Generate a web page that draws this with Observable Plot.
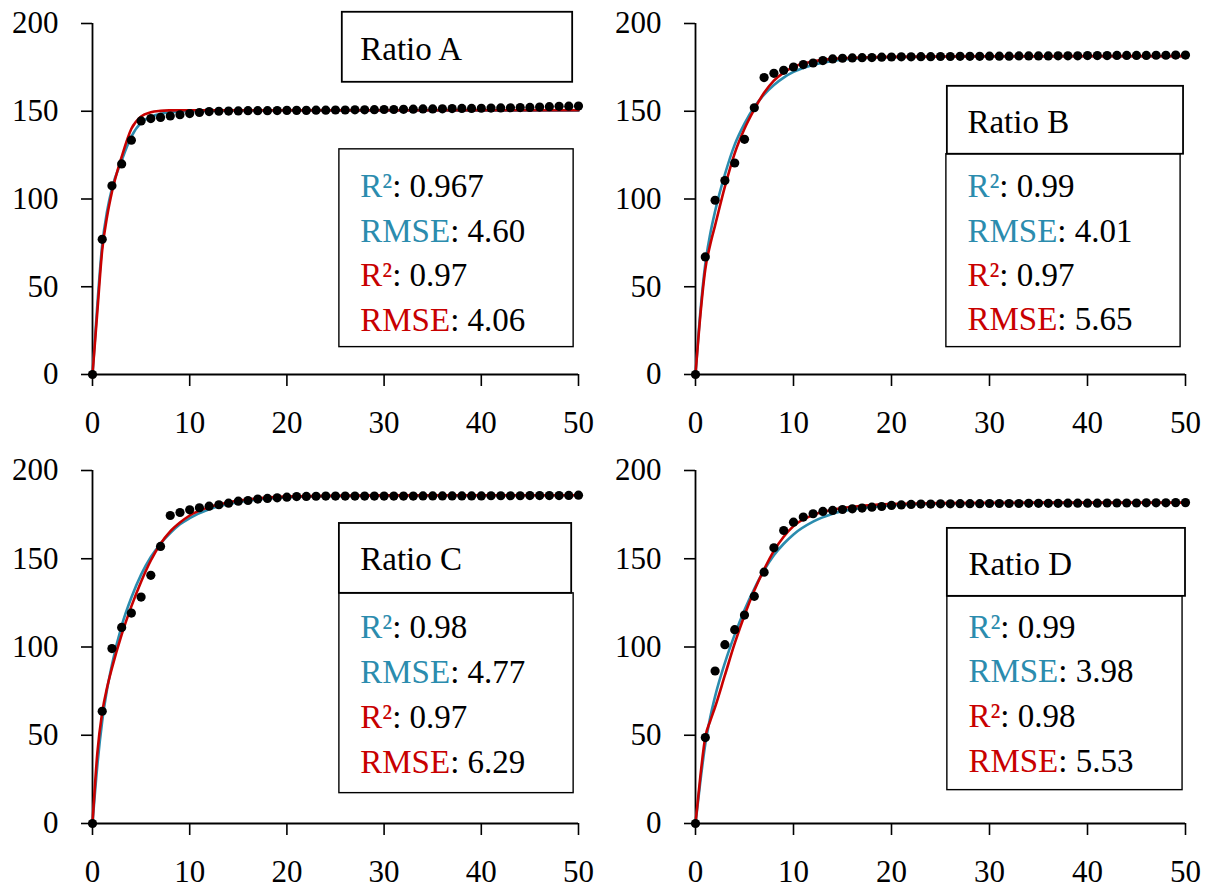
<!DOCTYPE html>
<html>
<head>
<meta charset="utf-8">
<script src="https://cdn.jsdelivr.net/npm/d3@7"></script>
<script src="https://cdn.jsdelivr.net/npm/@observablehq/plot@0.6"></script>
<style>
  body { margin: 0; background: #fff; }
  #chart { position: relative; width: 1209px; height: 891px; font-family: "Liberation Serif", serif; }
  #chart svg { position: absolute; overflow: visible; }
</style>
</head>
<body>
<div id="chart"></div>
<script>
// Sampling times of the observations
const time = [0,1,2,3,4,5,6,7,8,9,10,11,12,13,14,15,16,17,18,19,20,21,22,23,24,25,
  26,27,28,29,30,31,32,33,34,35,36,37,38,39,40,41,42,43,44,45,46,47,48,49,50];

// Observed values for each ratio
const ratioA = [0,77,107.5,120,133.5,144.5,145.8,146.5,147.3,148,148.7,149.3,149.8,150,150.1,150.2,150.3,150.3,150.3,150.4,
  150.5,150.5,150.5,150.6,150.6,150.7,150.7,150.8,150.8,150.9,151,151,151.1,151.2,151.3,151.3,151.4,151.5,151.6,151.6,
  151.7,151.8,151.9,152,152.1,152.2,152.4,152.6,152.8,152.9,153];
const ratioB = [0,67,99.3,110.5,120.5,134,152,169.2,171.6,173.3,175.2,176.6,177.5,178.9,179.8,180.2,180.4,180.5,180.6,180.8,
  180.9,181,181,181.1,181.1,181.2,181.2,181.3,181.3,181.3,181.4,181.4,181.4,181.5,181.5,181.5,181.5,181.6,181.6,181.6,
  181.7,181.7,181.7,181.8,181.8,181.8,181.8,181.9,181.9,182,182];
const ratioC = [0,63.6,99.1,111.1,119.2,128.3,140.6,157,174.5,176.2,177.7,178.9,179.8,180.6,181.5,182.6,183,183.8,184.2,184.5,
  184.9,185.2,185.3,185.4,185.5,185.5,185.5,185.5,185.5,185.5,185.5,185.5,185.5,185.5,185.6,185.6,185.6,185.6,185.6,185.6,
  185.6,185.7,185.7,185.7,185.7,185.8,185.8,185.8,185.8,185.9,186];
const ratioD = [0,48.7,86.4,101.3,109.8,118.1,128.7,142.4,156.2,166,170.7,173.6,175.5,176.8,177.4,177.9,178.3,178.7,179.2,179.6,
  180.2,180.5,180.8,181,181,181.1,181.1,181.2,181.2,181.2,181.3,181.3,181.3,181.3,181.4,181.4,181.4,181.4,181.5,181.5,
  181.5,181.5,181.6,181.6,181.6,181.6,181.7,181.7,181.7,181.8,181.8];

// Fitted model curves (two models per ratio)
const curveT = [0,0.5,1,1.5,2,3,4,5,6,7,8,9,10,12,14,17,20,25,30,40,50];
const blueA = [0,40,74,93,106,122,135.5,143.5,146.8,148.5,149.4,149.8,150,150.2,150.3,150.3,150.3,150.3,150.3,150.3,150.3];
const redA  = [0,36,71,90,104,124,140,147,149.4,150.2,150.5,150.6,150.6,150.6,150.6,150.6,150.6,150.6,150.6,150.6,150.6];
const blueB = [0,36,63,80,93,114,131,143,152.5,159.5,165,169.2,172.4,176.4,178.7,180.2,180.8,181.1,181.2,181.3,181.3];
const redB  = [0,34,60,74,85,107,126,140,151,160.5,167.5,172,175.3,178.4,179.8,180.6,181,181.2,181.3,181.4,181.4];
const blueC = [0,33,58,76,90,112,128,141,151,158.5,164.5,169.5,173,178,181,183.6,184.8,185.5,185.8,186,186];
const redC  = [0,40,63,77,88,107,123,137,149,158.5,165.5,170.5,174.5,179.3,182,184.2,185.2,185.7,185.9,186,186];
const blueD = [0,24,45,60,72,91,107,121,133,143.5,152,158.5,163.8,171,175.5,178.8,180.3,181.2,181.5,181.7,181.7];
const redD  = [0,27,49,58,66,84,102,118,132,144,154.5,162.5,168.5,174.8,177.8,180,181,181.5,181.7,181.8,181.8];

// Goodness-of-fit labels
const ratioNames = ["Ratio A", "Ratio B", "Ratio C", "Ratio D"];
const r2Blue   = ["0.967", "0.99", "0.98", "0.99"];
const rmseBlue = ["4.60", "4.01", "4.77", "3.98"];
const r2Red    = ["0.97", "0.97", "0.97", "0.98"];
const rmseRed  = ["4.06", "5.65", "6.29", "5.53"];

const xTicks = [0, 10, 20, 30, 40, 50];
const yTicks = [0, 50, 100, 150, 200];

const BLUE = "#2b8cae";
const RED = "#c80000";

const series = [
  {obs: ratioA, blue: blueA, red: redA},
  {obs: ratioB, blue: blueB, red: redB},
  {obs: ratioC, blue: blueC, red: redC},
  {obs: ratioD, blue: blueD, red: redD}
];

// Frame of each panel on the page
const frames = [
  {left: 0,   top: 0,   width: 604, height: 445, ml: 92, mr: 26, mt: 23, mb: 71},
  {left: 604, top: 0,   width: 605, height: 445, ml: 91, mr: 24, mt: 23, mb: 71},
  {left: 0,   top: 445, width: 604, height: 446, ml: 92, mr: 26, mt: 25, mb: 68},
  {left: 604, top: 445, width: 605, height: 446, ml: 91, mr: 24, mt: 25, mb: 68}
];

// Legend boxes, in data units of each panel
const legends = [
  {title: [25.7, 49.4, 166.5, 206.4], stats: [25.4, 49.5, 15.6, 128.3], tx: 27.6, base: 179.0, lines: [101.0, 75.4, 50.3, 24.7]},
  {title: [25.7, 49.8, 125.5, 164.2], stats: [25.6, 49.5, 15.6, 125.5], tx: 27.8, base: 137.5, lines: [101.0, 75.4, 50.3, 25.3]},
  {title: [25.4, 49.3, 130.4, 170.0], stats: [25.4, 49.5, 17.2, 130.4], tx: 27.6, base: 143.4, lines: [104.9, 79.4, 53.9, 28.5]},
  {title: [25.7, 50.0, 128.7, 167.2], stats: [25.7, 49.7, 18.9, 128.7], tx: 27.9, base: 140.6, lines: [104.9, 80.0, 54.5, 29.0]}
];

const chart = document.getElementById("chart");

series.forEach((s, i) => {
  const f = frames[i];
  const obs = time.map((t, k) => ({t, v: s.obs[k]}));
  const blue = curveT.map((t, k) => ({t, v: s.blue[k]}));
  const red = curveT.map((t, k) => ({t, v: s.red[k]}));

  const plot = Plot.plot({
    width: f.width,
    height: f.height,
    marginLeft: f.ml,
    marginRight: f.mr,
    marginTop: f.mt,
    marginBottom: f.mb,
    x: {domain: [0, 50], label: null},
    y: {domain: [0, 200], label: null},
    style: {fontFamily: "Liberation Serif, serif", fontSize: "31px", color: "black", background: "transparent"},
    marks: [
      Plot.axisY({ticks: yTicks, tickSize: 11, tickPadding: 23, strokeWidth: 1.6, label: null}),
      Plot.axisX({ticks: xTicks, tickSize: 12, tickPadding: 24, strokeWidth: 1.6, label: null}),
      Plot.ruleX([0], {strokeWidth: 1.8}),
      Plot.ruleY([0], {strokeWidth: 1.8}),
      Plot.line(blue, {x: "t", y: "v", stroke: BLUE, strokeWidth: 2.6, curve: "monotone-x"}),
      Plot.line(red, {x: "t", y: "v", stroke: RED, strokeWidth: 2.6, curve: "monotone-x"}),
      Plot.dot(obs, {x: "t", y: "v", r: 4.6, fill: "black"})
    ]
  });
  plot.style.left = f.left + "px";
  plot.style.top = f.top + "px";
  chart.appendChild(plot);

  // Legend: title box plus a box with fit statistics
  const sx = plot.scale("x"), sy = plot.scale("y");
  const lg = legends[i];
  const g = d3.select(plot).append("g")
    .attr("font-family", "Liberation Serif, serif")
    .attr("font-size", 33)
    .attr("text-anchor", "start");
  const box = (b, w) => g.append("rect")
    .attr("x", sx.apply(b[0])).attr("y", sy.apply(b[3]))
    .attr("width", sx.apply(b[1]) - sx.apply(b[0]))
    .attr("height", sy.apply(b[2]) - sy.apply(b[3]))
    .attr("fill", "white").attr("stroke", "black").attr("stroke-width", w);
  box(lg.stats, 1.4);
  box(lg.title, 1.8);
  g.append("text").attr("x", sx.apply(lg.tx)).attr("y", sy.apply(lg.base)).attr("fill", "black").text(ratioNames[i]);
  const rows = [
    ["R²", BLUE, r2Blue[i]],
    ["RMSE", BLUE, rmseBlue[i]],
    ["R²", RED, r2Red[i]],
    ["RMSE", RED, rmseRed[i]]
  ];
  rows.forEach(([name, color, value], k) => {
    const t = g.append("text").attr("x", sx.apply(lg.tx)).attr("y", sy.apply(lg.lines[k]));
    t.append("tspan").attr("fill", color).text(name);
    t.append("tspan").attr("fill", "black").text(": " + value);
  });
});
</script>
</body>
</html>
